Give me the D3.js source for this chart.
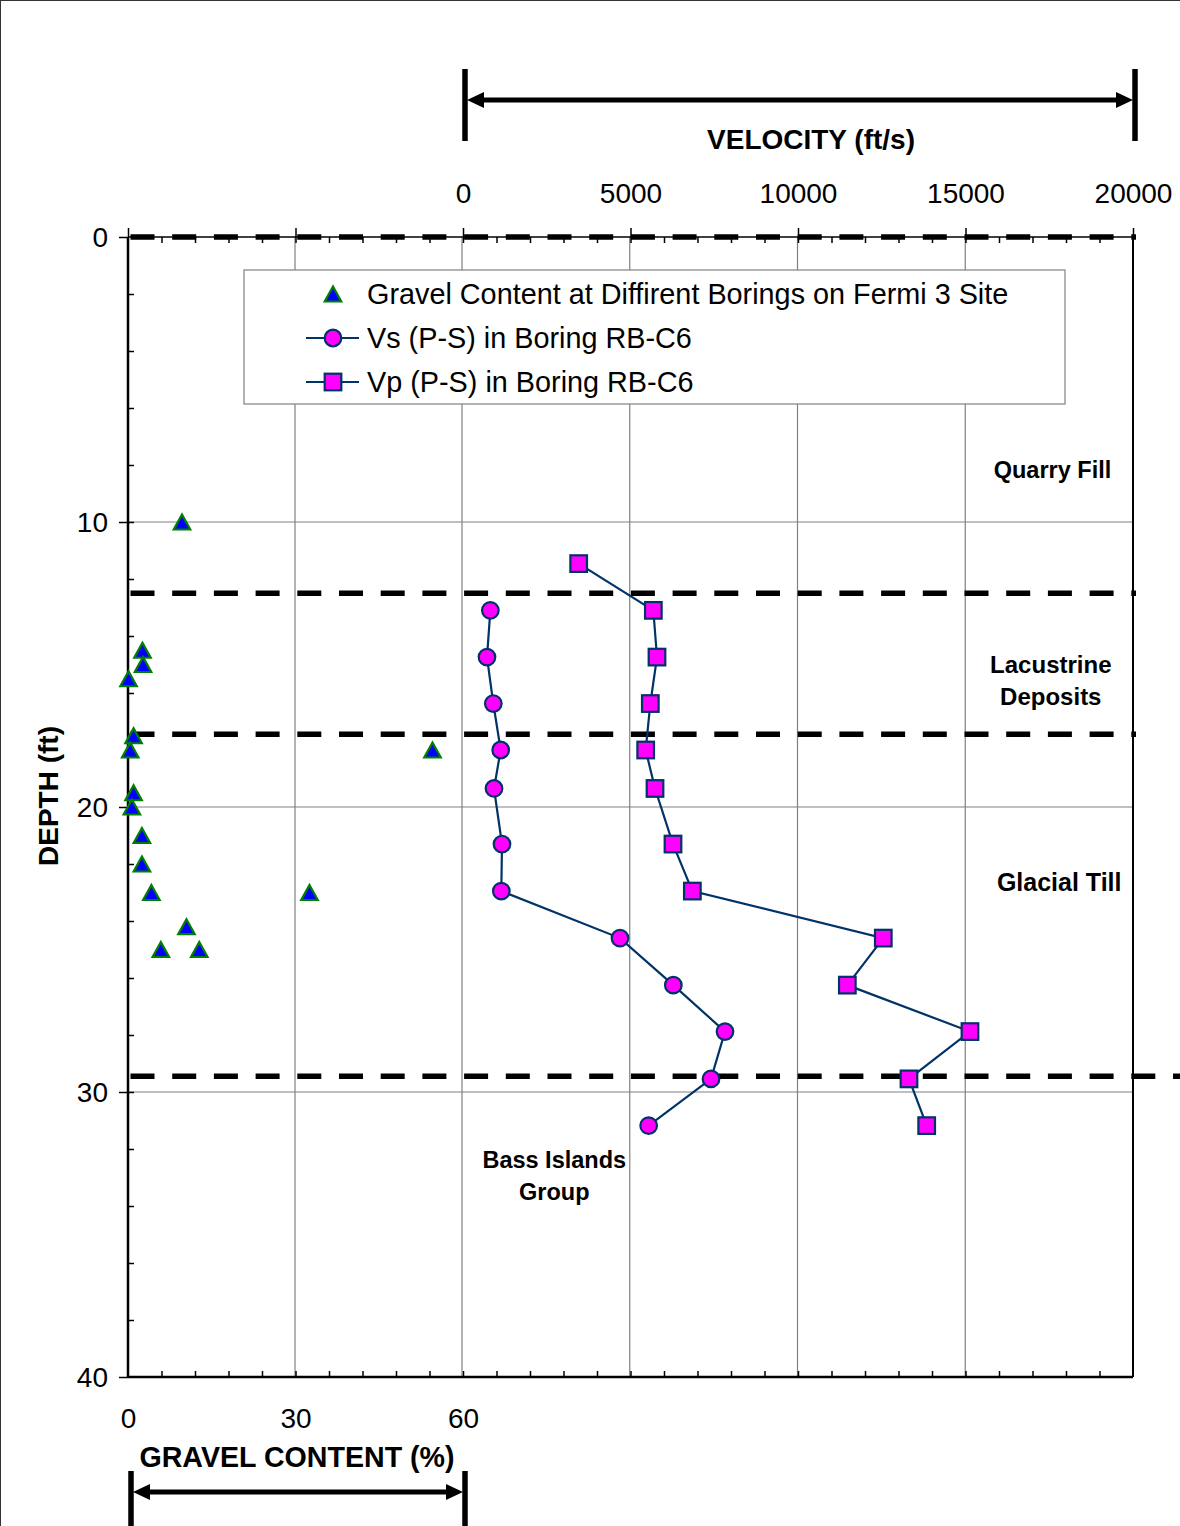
<!DOCTYPE html>
<html><head><meta charset="utf-8">
<script src="https://cdn.jsdelivr.net/npm/d3@7"></script>
<style>body{margin:0;background:#fff}svg{display:block;font-family:Arial,"Liberation Sans",sans-serif}</style>
</head><body><svg id="c" width="1180" height="1526"></svg>
<script>
// ---- data ----
const gravelPct   = [9.7, 2.6, 2.7, 0.1, 1.0, 0.4, 54.7, 1.0, 0.7, 2.5, 2.5, 4.2, 32.6, 10.5, 5.9, 12.8];
const gravelDepth = [10.0, 14.5, 15.0, 15.5, 17.5, 18.0, 18.0, 19.5, 20.0, 21.0, 22.0, 23.0, 23.0, 24.2, 25.0, 25.0];
const vsDepth = [13.1, 14.74, 16.37, 18.0, 19.35, 21.3, 22.95, 24.6, 26.25, 27.88, 29.54, 31.18];
const vsVel   = [845, 745, 933, 1153, 954, 1192, 1172, 4709, 6299, 7839, 7422, 5564];
const vpDepth = [11.46, 13.1, 14.74, 16.37, 18.0, 19.35, 21.3, 22.95, 24.6, 26.25, 27.88, 29.54, 31.18];
const vpVel   = [3478, 5703, 5812, 5613, 5475, 5753, 6289, 6866, 12557, 11485, 15141, 13323, 13851];
const layerBoundaries = [0, 12.5, 17.45, 29.45];
const depthTicks = [0, 10, 20, 30, 40];
const velTicks = [0, 5000, 10000, 15000, 20000];
const gravelTicks = [0, 30, 60];
const layerLabels = [
  {lines:["Quarry Fill"], vel:17600, depth:8.45, size:23.5},
  {lines:["Lacustrine","Deposits"], vel:17550, depth:15.3, size:24},
  {lines:["Glacial Till"], vel:17800, depth:22.95, size:25},
  {lines:["Bass Islands","Group"], vel:2750, depth:32.67, size:23.5}
];
const legendItems = [
  {label:"Gravel Content at Diffirent Borings on Fermi 3 Site", type:"tri"},
  {label:"Vs (P-S) in Boring RB-C6", type:"circle"},
  {label:"Vp (P-S) in Boring RB-C6", type:"square"}
];

// ---- layout ----
const L=128, R=1133, T=237, B=1377;
const svg = d3.select("#c");
const y = d3.scaleLinear().domain([0,40]).range([T,B]);
const xv = d3.scaleLinear().domain([0,20000]).range([462,R]);
const xvFull = d3.scaleLinear().domain([-10000,20000]).range([L,R]);
const xg = d3.scaleLinear().domain([0,60]).range([L,462]);
const xgFull = d3.scaleLinear().domain([0,180]).range([L,R]);
const fmt = d3.format("d");

// outer frame
svg.append("rect").attr("x",0.5).attr("y",0.5).attr("width",1182).attr("height",1530)
  .attr("fill","none").attr("stroke","#333").attr("stroke-width",1);

// gridlines
const g = svg.append("g");
[30,60].forEach(v=>g.append("line").attr("x1",xg(v)).attr("x2",xg(v)).attr("y1",T).attr("y2",B));
[5000,10000,15000].forEach(v=>g.append("line").attr("x1",xv(v)).attr("x2",xv(v)).attr("y1",T).attr("y2",B));
[10,20,30].forEach(d=>g.append("line").attr("x1",L).attr("x2",R).attr("y1",y(d)).attr("y2",y(d)));
g.selectAll("line").attr("stroke","#808080").attr("stroke-width",1.2);

// axes
function styleAxis(sel, w){ sel.select(".domain").remove(); sel.selectAll("line").attr("stroke","#000").attr("stroke-width",w||1.5); sel.selectAll("text").attr("fill","#000").attr("font-size",28).attr("font-family","Arial, 'Liberation Sans', sans-serif"); }
// left
const aL = svg.append("g").attr("transform",`translate(${L},0)`).call(d3.axisLeft(y).tickValues(depthTicks).tickFormat(fmt).tickSize(9).tickPadding(11));
styleAxis(aL); aL.selectAll("text").attr("dy","0.35em");
const aLm = svg.append("g").attr("transform",`translate(${L},0)`).call(d3.axisRight(y).tickValues(d3.range(2,40,2)).tickSize(6).tickFormat(""));
styleAxis(aLm);
// top
const aT = svg.append("g").attr("transform",`translate(0,${T})`).call(d3.axisTop(xvFull).tickValues(velTicks).tickFormat(fmt).tickSize(9).tickPadding(25));
styleAxis(aT);
const aTm = svg.append("g").attr("transform",`translate(0,${T})`).call(d3.axisTop(xvFull).tickValues([-10000,-5000]).tickSize(9).tickFormat(""));
styleAxis(aTm);
const aTi = svg.append("g").attr("transform",`translate(0,${T})`).call(d3.axisBottom(xvFull).tickValues(d3.range(-9000,20000,1000)).tickSize(6).tickFormat(""));
styleAxis(aTi);
// bottom
const aB = svg.append("g").attr("transform",`translate(0,${B})`).call(d3.axisBottom(xgFull).tickValues(gravelTicks).tickFormat(fmt).tickSize(0).tickPadding(31));
styleAxis(aB);
const aBm = svg.append("g").attr("transform",`translate(0,${B})`).call(d3.axisTop(xgFull).tickValues(d3.range(6,180,6)).tickSize(6).tickFormat(""));
styleAxis(aBm);

// frame lines
svg.append("line").attr("x1",L).attr("x2",L).attr("y1",T).attr("y2",B).attr("stroke","#000").attr("stroke-width",2.5);
svg.append("line").attr("x1",R).attr("x2",R).attr("y1",T).attr("y2",B).attr("stroke","#000").attr("stroke-width",2);
svg.append("line").attr("x1",L).attr("x2",R).attr("y1",B).attr("y2",B).attr("stroke","#000").attr("stroke-width",2.5);
svg.append("line").attr("x1",L).attr("x2",R).attr("y1",T).attr("y2",T).attr("stroke","#000").attr("stroke-width",1.5);

// layer boundaries (dashed)
layerBoundaries.forEach((d,i)=>{
  svg.append("line").attr("x1",130.5).attr("x2",i===3?1180:1136).attr("y1",y(d)).attr("y2",y(d))
    .attr("stroke","#000").attr("stroke-width",5.5).attr("stroke-dasharray","24 17.7");
});

// legend
const lg = svg.append("g");
lg.append("rect").attr("x",244).attr("y",270).attr("width",821).attr("height",134)
  .attr("fill","#fff").attr("stroke","#808080").attr("stroke-width",1.2);

const triPath = (w,h)=>`M0,${-h/2}L${w/2},${h/2}L${-w/2},${h/2}Z`;
function drawMarker(sel, type, cx, cy){
  if(type==="tri") sel.append("path").attr("d",triPath(16.5,15)).attr("transform",`translate(${cx},${cy})`)
      .attr("fill","#0000ff").attr("stroke","#008000").attr("stroke-width",2.2);
  else if(type==="circle") sel.append("circle").attr("cx",cx).attr("cy",cy).attr("r",8.3)
      .attr("fill","#ff00ff").attr("stroke","#003366").attr("stroke-width",2.2);
  else sel.append("rect").attr("x",cx-8.3).attr("y",cy-8.3).attr("width",16.6).attr("height",16.6)
      .attr("fill","#ff00ff").attr("stroke","#003366").attr("stroke-width",2.2);
}
legendItems.forEach((it,i)=>{
  const cy = 294 + i*44;
  if(it.type!=="tri") lg.append("line").attr("x1",306).attr("x2",359).attr("y1",cy).attr("y2",cy).attr("stroke","#003366").attr("stroke-width",2);
  drawMarker(lg, it.type, 333, cy);
  lg.append("text").attr("x",367).attr("y",cy).attr("dy","0.36em").attr("font-size",28.8).attr("fill","#000").text(it.label);
});

// series lines
const line = d3.line().x(d=>xv(d[0])).y(d=>y(d[1]));
const vs = vsVel.map((v,i)=>[v,vsDepth[i]]);
const vp = vpVel.map((v,i)=>[v,vpDepth[i]]);
[vs,vp].forEach(data=>svg.append("path").datum(data).attr("d",line).attr("fill","none").attr("stroke","#003366").attr("stroke-width",2.2));
vs.forEach(d=>drawMarker(svg,"circle",xv(d[0]),y(d[1])));
vp.forEach(d=>drawMarker(svg,"square",xv(d[0]),y(d[1])));
gravelPct.forEach((p,i)=>drawMarker(svg,"tri",xg(p),y(gravelDepth[i])));

// layer labels
layerLabels.forEach(lb=>{
  const t = svg.append("text").attr("text-anchor","middle").attr("font-weight","bold").attr("font-size",lb.size).attr("fill","#000");
  lb.lines.forEach((s,k)=>t.append("tspan").attr("x",xv(lb.vel)).attr("y",y(lb.depth)+k*32).text(s));
});

// titles
svg.append("text").attr("x",811).attr("y",149).attr("text-anchor","middle").attr("font-weight","bold").attr("font-size",28).text("VELOCITY (ft/s)");
svg.append("text").attr("x",297).attr("y",1467).attr("text-anchor","middle").attr("font-weight","bold").attr("font-size",28.6).text("GRAVEL CONTENT (%)");
svg.append("text").attr("transform","translate(58,796) rotate(-90)").attr("text-anchor","middle").attr("font-weight","bold").attr("font-size",28).text("DEPTH (ft)");

// range arrows
function rangeArrow(x1,x2,yy,y1,y2){
  const a = svg.append("g");
  a.append("line").attr("x1",x1).attr("x2",x1).attr("y1",y1).attr("y2",y2).attr("stroke","#000").attr("stroke-width",5.5);
  a.append("line").attr("x1",x2).attr("x2",x2).attr("y1",y1).attr("y2",y2).attr("stroke","#000").attr("stroke-width",5.5);
  a.append("line").attr("x1",x1+10).attr("x2",x2-10).attr("y1",yy).attr("y2",yy).attr("stroke","#000").attr("stroke-width",5);
  a.append("path").attr("d",`M${x1+2},${yy}L${x1+19},${yy-8}L${x1+19},${yy+8}Z`).attr("fill","#000");
  a.append("path").attr("d",`M${x2-2},${yy}L${x2-19},${yy-8}L${x2-19},${yy+8}Z`).attr("fill","#000");
}
rangeArrow(465,1135,100,69,141);
rangeArrow(131,465,1492,1471,1530);
</script></body></html>
